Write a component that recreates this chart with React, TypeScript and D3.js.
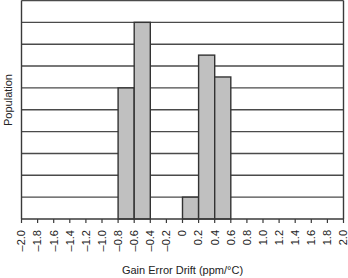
import React from "react";
import * as d3 from "d3";

const binStarts = [-0.8, -0.6, 0, 0.2, 0.4];
const binWidth = 0.2;
const counts = [6, 9, 1, 7.5, 6.5];
const tickValues = [-2.0, -1.8, -1.6, -1.4, -1.2, -1.0, -0.8, -0.6, -0.4, -0.2, 0, 0.2, 0.4, 0.6, 0.8, 1.0, 1.2, 1.4, 1.6, 1.8, 2.0];
const gridLevels = [1, 2, 3, 4, 5, 6, 7, 8, 9, 10];
const xTitle = "Gain Error Drift (ppm/°C)";
const yTitle = "Population";

function fmt(v: number): string {
  if (Math.abs(v) < 1e-9) return "0";
  const s = Math.abs(v).toFixed(1);
  return v < 0 ? "\u2013" + s : s;
}

export default function App() {
  const W = 348, H = 278;
  const left = 21.5, right = 343.5, top = 0.5, bottom = 219;
  const x = d3.scaleLinear().domain([-2, 2]).range([left, right]);
  const y = d3.scaleLinear().domain([0, 10]).range([bottom, top]);
  const font = "Liberation Sans, Arial, Helvetica, sans-serif";
  const dark = "#3a3a3a";
  return (
    <svg width={W} height={H} style={{ position: "absolute", left: 0, top: 0, background: "#fff" }}>
      {gridLevels.map((g) => (
        <line key={g} x1={left} x2={right} y1={y(g)} y2={y(g)} stroke="#4a4a4a" strokeWidth={1.4} />
      ))}
      {binStarts.map((b, i) => (
        <rect
          key={i}
          x={x(b)}
          y={y(counts[i])}
          width={x(b + binWidth) - x(b)}
          height={bottom - y(counts[i])}
          fill="#c0c0c0"
          stroke="#333"
          strokeWidth={1.4}
        />
      ))}
      <line x1={left} x2={left} y1={top} y2={bottom} stroke={dark} strokeWidth={1.4} />
      <line x1={right} x2={right} y1={top} y2={bottom} stroke={dark} strokeWidth={1.4} />
      <line x1={left} x2={right} y1={bottom} y2={bottom} stroke={dark} strokeWidth={1.4} />
      {tickValues.map((t, i) => (
        <g key={i}>
          <line x1={x(t)} x2={x(t)} y1={bottom} y2={bottom + 4} stroke={dark} strokeWidth={1.2} />
          <text
            transform={`translate(${x(t) + 3.8},${bottom + 11}) rotate(-90)`}
            textAnchor="end"
            fontFamily={font}
            fontSize={11}
            fill="#222"
          >
            {fmt(t)}
          </text>
        </g>
      ))}
      <text x={(left + right) / 2} y={274} textAnchor="middle" fontFamily={font} fontSize={11} fill="#222">
        {xTitle}
      </text>
      <text
        transform={`translate(12,100) rotate(-90)`}
        textAnchor="middle"
        fontFamily={font}
        fontSize={11}
        fill="#222"
      >
        {yTitle}
      </text>
    </svg>
  );
}
